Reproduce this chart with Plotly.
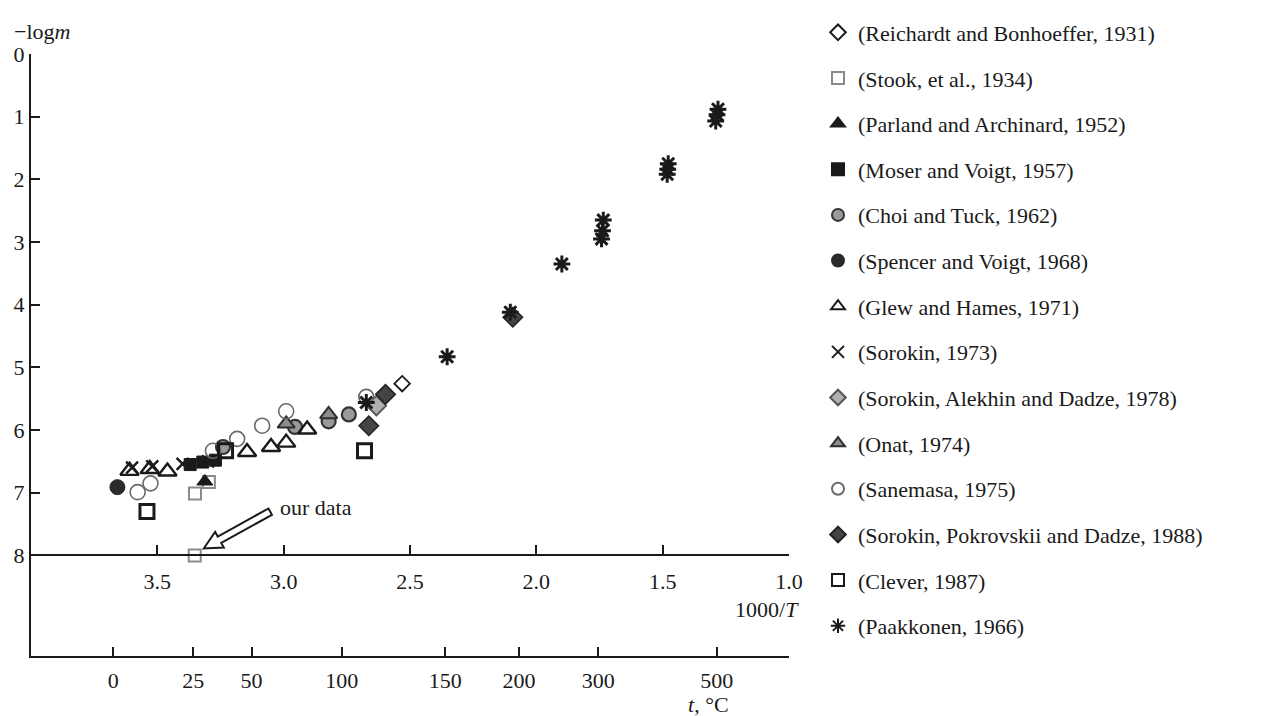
import math
import plotly.graph_objects as go

# ---------------- data (x = 1000/T, y = -log m) ----------------
reichardt_x = [2.531]
reichardt_y = [5.26]
stook_x = [3.351, 3.296]
stook_y = [7.01, 6.83]
parland_x = [3.312]
parland_y = [6.82]
moser_x = [3.37, 3.32, 3.27]
moser_y = [6.55, 6.51, 6.48]
choi_x = [3.24, 2.955, 2.822, 2.742]
choi_y = [6.27, 5.95, 5.86, 5.75]
spencer_x = [3.658]
spencer_y = [6.91]
glew_x = [3.61, 3.53, 3.46, 3.145, 3.05, 2.99, 2.907]
glew_y = [6.65, 6.62, 6.66, 6.35, 6.27, 6.20, 5.99]
sorokin73_x = [3.60, 3.52, 3.40, 3.30]
sorokin73_y = [6.60, 6.58, 6.54, 6.50]
alekhin_x = [2.633]
alekhin_y = [5.61]
onat_x = [2.822, 2.99]
onat_y = [5.75, 5.90]
sanemasa_x = [3.578, 3.527, 3.28, 3.184, 3.085, 2.99, 2.673]
sanemasa_y = [6.99, 6.85, 6.33, 6.14, 5.93, 5.70, 5.47]
pokrovskii_x = [2.597, 2.663, 2.093]
pokrovskii_y = [5.43, 5.93, 4.20]
clever_x = [3.541, 3.23, 2.68]
clever_y = [7.30, 6.33, 6.33]
paakkonen_x = [1.281, 1.285, 1.29, 1.478, 1.48, 1.482, 1.735, 1.738, 1.742,
               1.899, 2.103, 2.353, 2.673]
paakkonen_y = [0.88, 0.97, 1.07, 1.75, 1.84, 1.92, 2.65, 2.82, 2.95,
               3.35, 4.12, 4.83, 5.56]
our_x = [3.352]
our_y = [8.0]

inv_ticks = [3.5, 3.0, 2.5, 2.0, 1.5, 1.0]
inv_labels = ["3.5", "3.0", "2.5", "2.0", "1.5", "1.0"]
t_tick_pos = [3.674, 3.358, 3.127, 2.770, 2.360, 2.069, 1.755, 1.286]
t_tick_labels = ["0", "25", "50", "100", "150", "200", "300", "500"]
y_ticks = [0, 1, 2, 3, 4, 5, 6, 7, 8]

FONT = "Liberation Serif"
INK = "#1a1a1a"

series = [
    ("(Reichardt and Bonhoeffer, 1931)", reichardt_x, reichardt_y,
     dict(symbol="diamond-open", size=12, color=INK, line=dict(width=1.8, color=INK))),
    ("(Stook, et al., 1934)", stook_x, stook_y,
     dict(symbol="square-open", size=12, color="#8a8a8a", line=dict(width=2, color="#8a8a8a"))),
    ("(Parland and Archinard, 1952)", parland_x, parland_y,
     dict(symbol="triangle-up", size=14, color=INK, line=dict(width=1, color=INK))),
    ("(Moser and Voigt, 1957)", moser_x, moser_y,
     dict(symbol="square", size=12, color=INK, line=dict(width=1, color=INK))),
    ("(Choi and Tuck, 1962)", choi_x, choi_y,
     dict(symbol="circle", size=14, color="#9a9a9a", line=dict(width=2.2, color="#333333"))),
    ("(Spencer and Voigt, 1968)", spencer_x, spencer_y,
     dict(symbol="circle", size=15, color="#2a2a2a", line=dict(width=1, color="#2a2a2a"))),
    ("(Glew and Hames, 1971)", glew_x, glew_y,
     dict(symbol="triangle-up-open", size=16, color=INK, line=dict(width=2.4, color=INK))),
    ("(Sorokin, 1973)", sorokin73_x, sorokin73_y,
     dict(symbol="x-thin-open", size=12, color=INK, line=dict(width=2.4, color=INK))),
    ("(Sorokin, Alekhin and Dadze, 1978)", alekhin_x, alekhin_y,
     dict(symbol="diamond", size=15, color="#b0b0b0", line=dict(width=1.8, color="#555555"))),
    ("(Onat, 1974)", onat_x, onat_y,
     dict(symbol="triangle-up", size=15, color="#8c8c8c", line=dict(width=2, color="#2e2e2e"))),
    ("(Sanemasa, 1975)", sanemasa_x, sanemasa_y,
     dict(symbol="circle-open", size=15, color="#6a6a6a", line=dict(width=1.6, color="#6a6a6a"))),
    ("(Sorokin, Pokrovskii and Dadze, 1988)", pokrovskii_x, pokrovskii_y,
     dict(symbol="diamond", size=15, color="#444444", line=dict(width=1.5, color="#222222"))),
    ("(Clever, 1987)", clever_x, clever_y,
     dict(symbol="square-open", size=14, color=INK, line=dict(width=3, color=INK))),
    ("(Paakkonen, 1966)", paakkonen_x, paakkonen_y,
     dict(symbol="asterisk-open", size=14, color=INK, line=dict(width=3, color=INK))),
]

fig = go.Figure()
for i, (name, xs, ys, mk) in enumerate(series):
    fig.add_trace(go.Scatter(x=xs, y=ys, mode="markers", name=name, marker=mk,
                             legendgroup=f"g{i}", xaxis="x", yaxis="y"))

fig.add_trace(go.Scatter(x=our_x, y=our_y, mode="markers", showlegend=False,
                         marker=dict(symbol="square-open", size=12, color="#8a8a8a",
                                     line=dict(width=2, color="#8a8a8a"))))

# invisible trace on the temperature axis
fig.add_trace(go.Scatter(x=[t_tick_pos[0]], y=[9.0], mode="markers", showlegend=False,
                         marker=dict(opacity=0), xaxis="x2", yaxis="y", hoverinfo="skip"))

L, R, T, B = 31, 472, 47, 60
W, H = 1261, 716
pw, ph = W - L - R, H - T - B
ymax = 9.604
XR = [4.0, 1.0]


def xp(px):
    return (px - L) / pw


def yp(py):
    return (H - B - py) / ph


axis_common = dict(showgrid=False, zeroline=False, showline=True, linecolor=INK,
                   linewidth=2, ticks="inside", ticklen=9, tickwidth=2, tickcolor=INK,
                   tickfont=dict(family=FONT, size=22, color=INK), automargin=False)

fig.update_layout(
    width=W, height=H,
    margin=dict(l=L, r=R, t=T, b=B),
    template="none",
    paper_bgcolor="white", plot_bgcolor="white",
    font=dict(family=FONT, size=22, color=INK),
    xaxis=dict(range=XR, tickvals=inv_ticks, ticktext=inv_labels, anchor="free",
               position=(ymax - 8) / ymax, side="bottom", ticklabelstandoff=6,
               **axis_common),
    xaxis2=dict(range=XR, tickvals=t_tick_pos, ticktext=t_tick_labels, overlaying="x",
                anchor="y", side="bottom", ticklabelstandoff=4, **axis_common),
    yaxis=dict(range=[ymax, 0], tickvals=y_ticks, ticktext=[str(v) for v in y_ticks],
               **axis_common),
    showlegend=True,
    legend=dict(x=xp(818), xanchor="left", y=yp(4), yanchor="top",
                font=dict(family=FONT, size=22, color=INK), tracegroupgap=14.05,
                itemsizing="constant", bgcolor="rgba(0,0,0,0)", maxheight=716),
)

# hollow arrow pointing at "our data" (pixel geometry relative to the point)
tip = (9.0, 7.0)
dx, dy = 65.0, 36.0
n = math.hypot(dx, dy)
u = (dx / n, dy / n)
v = (-u[1], u[0])
head_len, head_half, shaft_half, total = 18.0, 9.0, 3.6, 76.0
outline = [(0, 0), (head_len, head_half), (head_len, shaft_half), (total, shaft_half),
           (total, -shaft_half), (head_len, -shaft_half), (head_len, -head_half)]
pts = [(tip[0] + a * u[0] + p * v[0], tip[1] + a * u[1] + p * v[1]) for a, p in outline]
path = "M " + " L ".join(f"{px:.2f},{py:.2f}" for px, py in pts) + " Z"
fig.add_shape(type="path", xref="x", yref="y", xsizemode="pixel", ysizemode="pixel",
              xanchor=our_x[0], yanchor=our_y[0], path=path,
              line=dict(color=INK, width=2), fillcolor="white", layer="above")

ann = [
    dict(text="\u2212log<i>m</i>", xref="paper", yref="paper", x=xp(12), y=yp(24),
         xanchor="left", yanchor="middle", showarrow=False),
    dict(text="1000/<i>T</i>", xref="paper", yref="paper", x=xp(801), y=yp(609),
         xanchor="right", yanchor="middle", showarrow=False),
    dict(text="<i>t</i>, \u00b0C", xref="paper", yref="paper", x=xp(708), y=yp(705),
         xanchor="center", yanchor="middle", showarrow=False),
    dict(text="our data", xref="x", yref="y", x=3.022, y=7.24, xanchor="left",
         yanchor="middle", showarrow=False),
]
fig.update_layout(annotations=ann)

fig.write_html("out.html",
               config={"displayModeBar": False},
               post_script="document.body.style.margin='0px';"
                           "document.body.style.overflow='hidden';")
